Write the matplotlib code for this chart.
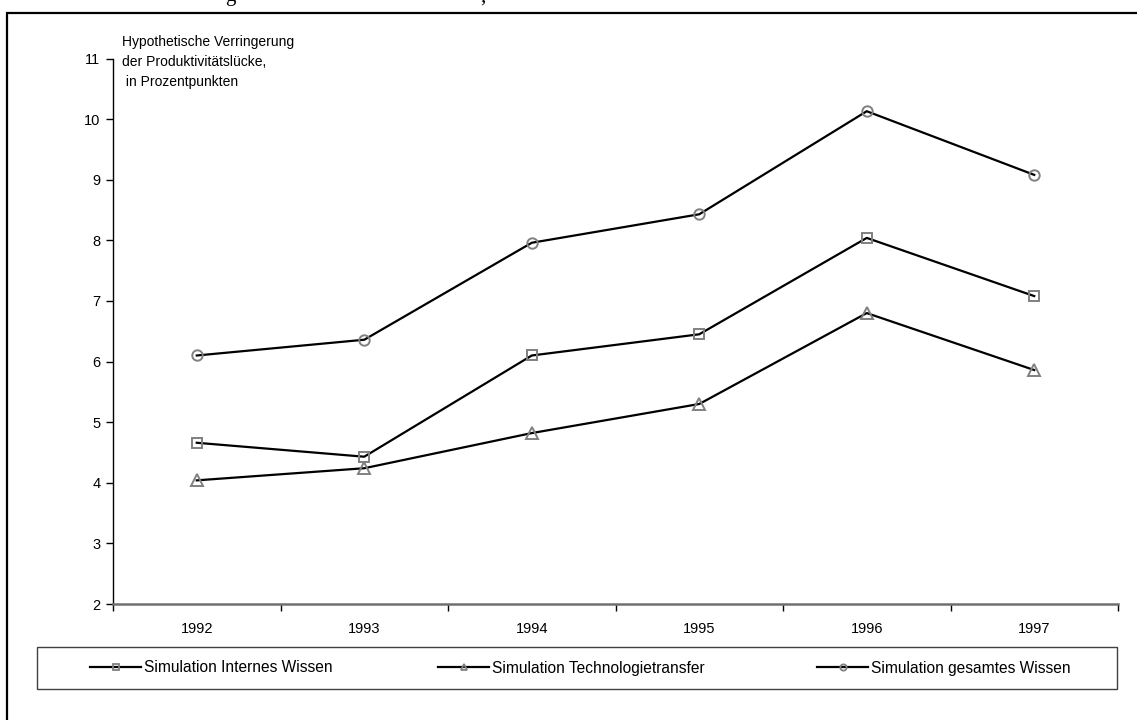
import matplotlib
matplotlib.use("Agg")
import matplotlib.pyplot as plt
from matplotlib.lines import Line2D
from matplotlib.patches import Rectangle

plt.rcParams['font.family'] = ['Liberation Sans', 'DejaVu Sans']

years = ['1992', '1993', '1994', '1995', '1996', '1997']
internes_wissen = [4.66, 4.43, 6.10, 6.45, 8.04, 7.08]
technologietransfer = [4.04, 4.24, 4.82, 5.30, 6.80, 5.86]
gesamtes_wissen = [6.10, 6.36, 7.96, 8.43, 10.13, 9.08]
series_labels = ['Simulation Internes Wissen',
                 'Simulation Technologietransfer',
                 'Simulation gesamtes Wissen']
y_ticks = [2, 3, 4, 5, 6, 7, 8, 9, 10, 11]
axis_note = 'Hypothetische Verringerung\nder Produktivitätslücke,\n in Prozentpunkten'

W, H = 1137, 720
fig = plt.figure(figsize=(W / 100, H / 100), dpi=100)
fig.patch.set_facecolor('white')

def fx(px):
    return px / W

def fy(py):
    return 1 - py / H

ax = fig.add_axes([fx(113), fy(604), fx(1118) - fx(113), fy(58.5) - fy(604)])

x = list(range(len(years)))
series = [internes_wissen, technologietransfer, gesamtes_wissen]
markers = ['s', '^', 'o']
msizes = [7.5, 9, 7.5]
handles = []
for vals, mk, ms, lab in zip(series, markers, msizes, series_labels):
    ln, = ax.plot(x, vals, color='black', lw=1.6, marker=mk, ms=ms,
                  mfc='none', mec='#808080', mew=1.4, label=lab,
                  clip_on=False, zorder=3)
    handles.append(ln)

ax.set_xlim(-0.5, len(years) - 0.5)
ax.set_ylim(2, 11)
ax.set_yticks(y_ticks)
ax.set_yticklabels([str(v) for v in y_ticks], fontsize=10.5)

# category boundaries carry the tick marks, labels sit at the centres
ax.set_xticks([i - 0.5 for i in range(len(years) + 1)])
ax.set_xticklabels([])
ax.set_xticks(x, minor=True)
ax.set_xticklabels(years, minor=True, fontsize=10.5)
ax.tick_params(axis='x', which='major', length=5, width=1, color='black',
               direction='out')
ax.tick_params(axis='x', which='minor', length=0, pad=13)
ax.tick_params(axis='y', length=5, width=1, color='black', direction='out',
               pad=4)

for side in ('top', 'right'):
    ax.spines[side].set_visible(False)
ax.spines['left'].set_color('black')
ax.spines['left'].set_linewidth(1.0)
ax.spines['bottom'].set_color('#707070')
ax.spines['bottom'].set_linewidth(1.8)

fig.text(fx(122), fy(35), axis_note, fontsize=10, va='top', ha='left',
         linespacing=1.55)

# legend frame and entries
fig.patches.append(Rectangle((fx(37), fy(689)), fx(1117) - fx(37),
                             fy(647) - fy(689), transform=fig.transFigure,
                             fill=False, edgecolor='#404040', lw=1.0))
legend_x = [90, 438, 817]
for h, lx in zip(handles, legend_x):
    proxy = Line2D([], [], color='black', lw=1.6, marker=h.get_marker(),
                   ms=4.5, mfc='none', mec='#808080', mew=1.3)
    leg = fig.legend([proxy], [h.get_label()], loc='center left',
                     bbox_to_anchor=(fx(lx), fy(668)), frameon=False,
                     borderpad=0, borderaxespad=0, handlelength=3.3,
                     handletextpad=0.2, fontsize=11.2)

# outer frame of the figure panel
fig.patches.append(Rectangle((fx(7), fy(735)), fx(1150) - fx(7),
                             fy(13) - fy(735), transform=fig.transFigure,
                             fill=False, edgecolor='black', lw=1.6))

# descenders of the caption line running above the panel
fig.text(fx(230), fy(1.5), 'g', fontsize=15, va='baseline', ha='center',
         family='Liberation Serif')
fig.text(fx(483), fy(1.5), ',', fontsize=15, va='baseline', ha='center',
         family='Liberation Serif')

fig.savefig('out.png', dpi=100, facecolor='white')
